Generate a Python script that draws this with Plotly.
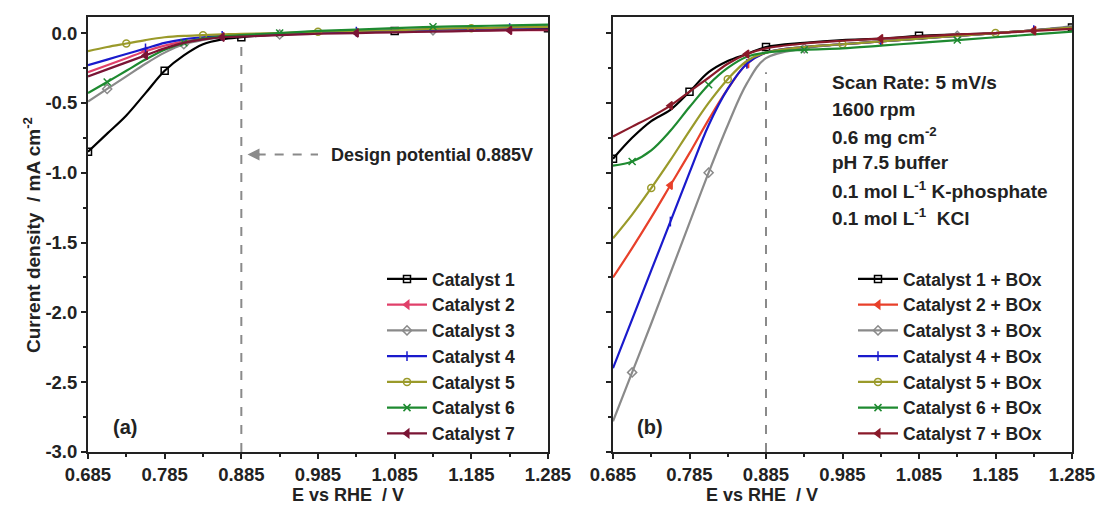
import plotly.graph_objects as go

# Potential grid (V vs RHE)
potential = [0.685, 0.71, 0.735, 0.76, 0.785, 0.81, 0.835, 0.86, 0.885,
             0.935, 0.985, 1.035, 1.085, 1.135, 1.185, 1.235, 1.285]

# (a) catalysts alone, current density in mA cm^-2
cat_a = {
    "Catalyst 1": [-0.85, -0.72, -0.59, -0.43, -0.27, -0.16, -0.08, -0.045, -0.03,
                   -0.01, 0.0, 0.01, 0.015, 0.02, 0.025, 0.03, 0.035],
    "Catalyst 2": [-0.28, -0.23, -0.18, -0.13, -0.09, -0.06, -0.04, -0.025, -0.02,
                   -0.01, 0.0, 0.005, 0.01, 0.015, 0.02, 0.02, 0.02],
    "Catalyst 3": [-0.49, -0.40, -0.31, -0.22, -0.14, -0.08, -0.05, -0.03, -0.02,
                   -0.01, 0.0, 0.01, 0.015, 0.02, 0.03, 0.04, 0.05],
    "Catalyst 4": [-0.23, -0.19, -0.15, -0.11, -0.07, -0.045, -0.03, -0.02, -0.015,
                   -0.005, 0.005, 0.01, 0.02, 0.025, 0.03, 0.035, 0.04],
    "Catalyst 5": [-0.13, -0.10, -0.075, -0.05, -0.03, -0.02, -0.015, -0.01, -0.005,
                   0.0, 0.01, 0.015, 0.02, 0.03, 0.035, 0.04, 0.045],
    "Catalyst 6": [-0.43, -0.35, -0.27, -0.19, -0.12, -0.07, -0.04, -0.025, -0.015,
                   0.0, 0.015, 0.025, 0.035, 0.045, 0.05, 0.055, 0.06],
    "Catalyst 7": [-0.31, -0.26, -0.21, -0.16, -0.11, -0.07, -0.045, -0.03, -0.025,
                   -0.015, -0.005, 0.0, 0.005, 0.01, 0.015, 0.02, 0.025],
}

# (b) catalysts with bilirubin oxidase
cat_b = {
    "Catalyst 1 + BOx": [-0.90, -0.75, -0.63, -0.55, -0.42, -0.28, -0.20, -0.15, -0.10,
                         -0.07, -0.05, -0.04, -0.02, -0.01, 0.0, 0.02, 0.04],
    "Catalyst 2 + BOx": [-1.75, -1.54, -1.32, -1.09, -0.86, -0.62, -0.40, -0.22, -0.14,
                         -0.10, -0.08, -0.06, -0.04, -0.02, 0.0, 0.02, 0.04],
    "Catalyst 3 + BOx": [-2.78, -2.43, -2.08, -1.72, -1.36, -1.00, -0.66, -0.36, -0.18,
                         -0.11, -0.08, -0.06, -0.04, -0.02, 0.0, 0.02, 0.05],
    "Catalyst 4 + BOx": [-2.40, -2.05, -1.70, -1.35, -1.00, -0.66, -0.40, -0.22, -0.14,
                         -0.10, -0.08, -0.06, -0.04, -0.02, 0.0, 0.02, 0.04],
    "Catalyst 5 + BOx": [-1.47, -1.30, -1.11, -0.91, -0.70, -0.50, -0.33, -0.20, -0.14,
                         -0.10, -0.08, -0.06, -0.04, -0.02, 0.0, 0.02, 0.04],
    "Catalyst 6 + BOx": [-0.95, -0.92, -0.84, -0.70, -0.53, -0.37, -0.25, -0.17, -0.14,
                         -0.12, -0.11, -0.09, -0.07, -0.05, -0.03, -0.01, 0.01],
    "Catalyst 7 + BOx": [-0.74, -0.67, -0.60, -0.52, -0.42, -0.32, -0.22, -0.15, -0.11,
                         -0.075, -0.055, -0.04, -0.025, -0.01, 0.0, 0.015, 0.03],
}

design_potential = 0.885
x_ticks = [0.685, 0.785, 0.885, 0.985, 1.085, 1.185, 1.285]
y_ticks = [-3.0, -2.5, -2.0, -1.5, -1.0, -0.5, 0.0]
conditions = ["Scan Rate: 5 mV/s", "1600 rpm", "0.6 mg cm<sup>-2</sup>", "pH 7.5 buffer",
              "0.1 mol L<sup>-1</sup> K-phosphate", "0.1 mol L<sup>-1</sup>  KCl"]

colors_a = ["#000000", "#e0406a", "#8a8a8a", "#1a1acc", "#9a9a2a", "#1e8a30", "#7a1535"]
colors_b = ["#000000", "#e8402a", "#8a8a8a", "#1a1acc", "#9a9a2a", "#1e8a30", "#8a1a2a"]
symbols = ["square-open", "triangle-left", "diamond-open", "line-ns-open",
           "circle-open", "x-thin-open", "triangle-left"]

FONT = "Liberation Sans, Arial, sans-serif"
INK = "#222"
fig = go.Figure()

for i, (name, vals) in enumerate(cat_a.items()):
    fig.add_trace(go.Scatter(
        x=potential, y=vals, name=name, legendgroup=name, mode="lines+markers",
        line=dict(color=colors_a[i], width=2.2, shape="spline"),
        marker=dict(symbol=symbols[i], size=7, color=colors_a[i], maxdisplayed=5,
                    line=dict(color=colors_a[i], width=1.5)),
        xaxis="x", yaxis="y", legend="legend"))

for i, (name, vals) in enumerate(cat_b.items()):
    fig.add_trace(go.Scatter(
        x=potential, y=vals, name=name, legendgroup=name, mode="lines+markers",
        line=dict(color=colors_b[i], width=2.2, shape="spline"),
        marker=dict(symbol=symbols[i], size=7, color=colors_b[i], maxdisplayed=5,
                    line=dict(color=colors_b[i], width=1.5)),
        xaxis="x2", yaxis="y2", legend="legend2"))

tick_font = dict(family=FONT, size=18.5, color=INK, weight="bold")
axis_common = dict(
    range=[0.685, 1.285], tickvals=x_ticks, ticktext=[f"{v:.3f}" for v in x_ticks],
    ticks="outside", ticklen=5, tickwidth=1.5, tickcolor=INK, automargin=False,
    minor=dict(ticks="outside", ticklen=3, tickwidth=1.5, tickcolor=INK, dtick=0.05, tick0=0.685),
    showline=True, linecolor=INK, linewidth=2, mirror=True, showgrid=False, zeroline=False,
    tickfont=tick_font)
yaxis_common = dict(
    range=[-3.0, 0.115], tickvals=y_ticks, ticktext=[f"{v:.1f}" for v in y_ticks],
    ticks="outside", ticklen=5, tickwidth=1.5, tickcolor=INK, automargin=False,
    minor=dict(ticks="outside", ticklen=3, tickwidth=1.5, tickcolor=INK, dtick=0.25, tick0=0),
    showline=True, linecolor=INK, linewidth=2, mirror=True, showgrid=False, zeroline=False,
    tickfont=tick_font)

legend_common = dict(
    font=dict(family=FONT, size=17.5, color=INK, weight="bold"),
    bgcolor="rgba(0,0,0,0)", borderwidth=0, tracegroupgap=0,
    xanchor="left", yanchor="top", itemwidth=40)

fig.update_layout(
    width=1097, height=518, margin=dict(l=0, r=0, t=0, b=0),
    paper_bgcolor="white", plot_bgcolor="white",
    xaxis=dict(domain=[88 / 1097, 548 / 1097], anchor="y", **axis_common),
    yaxis=dict(domain=[66 / 518, 501 / 518], anchor="x", **yaxis_common),
    xaxis2=dict(domain=[613 / 1097, 1072 / 1097], anchor="y2", **axis_common),
    yaxis2=dict(domain=[66 / 518, 501 / 518], anchor="x2", showticklabels=False, **yaxis_common),
    legend=dict(x=382 / 1097, y=1 - 261 / 518, **legend_common),
    legend2=dict(x=853 / 1097, y=1 - 261 / 518, **legend_common),
    showlegend=True,
)

# Design potential markers
for xr, yr, top in (("x", "y", -0.1), ("x2", "y2", -0.28)):
    fig.add_shape(type="line", xref=xr, yref=yr, x0=design_potential, x1=design_potential,
                  y0=-3.0, y1=top, line=dict(color="#8a8a8a", width=2, dash="dash"), layer="below")

fig.add_shape(type="line", xref="x", yref="y", x0=0.905, x1=0.985, y0=-0.87, y1=-0.87,
              line=dict(color="#8a8a8a", width=2, dash="dash"))
fig.add_annotation(xref="x", yref="y", x=0.893, y=-0.87, ax=14, ay=0, text="",
                   showarrow=True, arrowhead=2, arrowsize=1.2, arrowwidth=2, arrowcolor="#8a8a8a")
fig.add_annotation(xref="x", yref="y", x=0.999, y=-0.87, xanchor="left", yanchor="middle",
                   text="Design potential 0.885V", showarrow=False,
                   font=dict(family=FONT, size=18, color=INK, weight="bold"))

# Panel labels
fig.add_annotation(xref="x", yref="y", x=0.733, y=-2.82, text="(a)", showarrow=False,
                   font=dict(family=FONT, size=20, color=INK, weight="bold"))
fig.add_annotation(xref="x2", yref="y2", x=0.733, y=-2.82, text="(b)", showarrow=False,
                   font=dict(family=FONT, size=20, color=INK, weight="bold"))

# Experimental conditions
for k, line in enumerate(conditions):
    fig.add_annotation(xref="paper", yref="paper", x=830 / 1097, y=1 - (82 + 27 * k) / 518,
                       xanchor="left", yanchor="middle", text=line, showarrow=False,
                       font=dict(family=FONT, size=19, color=INK, weight="bold"))

# Axis titles
fig.add_annotation(xref="paper", yref="paper", x=18 / 1097, y=1 - 235 / 518, textangle=-90,
                   text="Current density  / mA cm<sup>-2</sup>", showarrow=False,
                   font=dict(family=FONT, size=19, color=INK, weight="bold"))
for cx in (290, 820):
    fig.add_annotation(xref="paper", yref="paper", x=cx / 1097, y=1 - 507 / 518,
                       text="E vs RHE  / V", showarrow=False,
                       font=dict(family=FONT, size=18, color=INK, weight="bold"))

fig.write_html("out.html")
